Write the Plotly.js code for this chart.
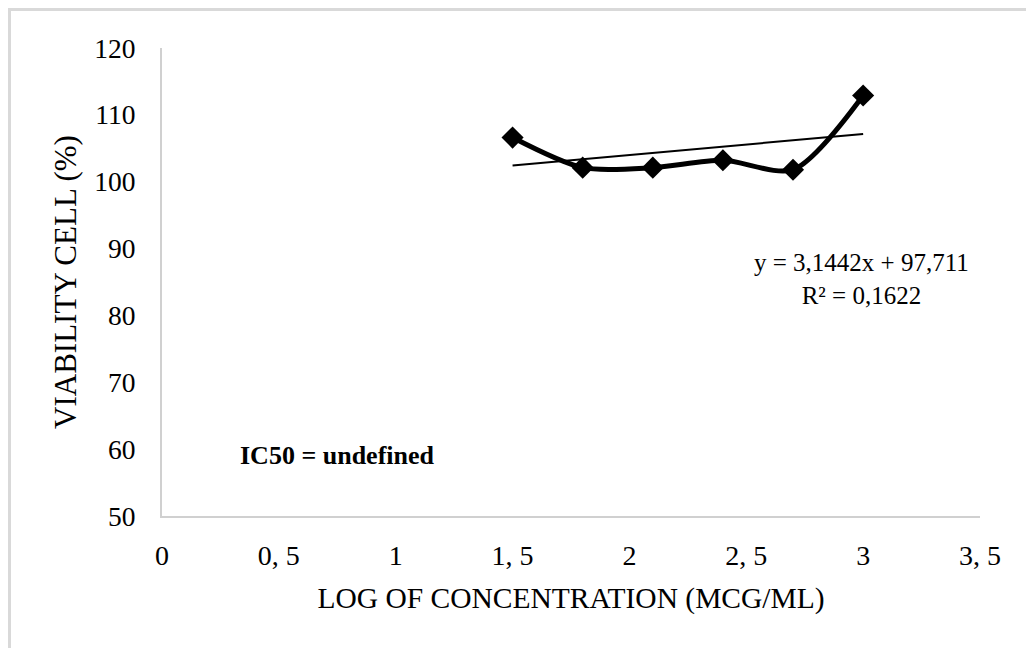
<!DOCTYPE html>
<html>
<head>
<meta charset="utf-8">
<script src="https://cdn.plot.ly/plotly-3.0.1.min.js"></script>
<style>
html,body{margin:0;padding:0;background:#fff;overflow:hidden;}
#wrap{position:relative;width:1026px;height:648px;overflow:hidden;}
#chart{position:absolute;left:0;top:0;width:1026px;height:648px;}
#frame{position:absolute;left:8px;top:8px;width:1100px;height:700px;border:3px solid #d9d9d9;box-sizing:border-box;pointer-events:none;}
</style>
</head>
<body>
<div id="wrap"><div id="chart"></div><div id="frame"></div></div>
<script>
// Data
const logConc = [1.5, 1.8, 2.1, 2.4, 2.7, 3.0];
const viability = [106.6, 102.1, 102.1, 103.2, 101.8, 112.9];
// Linear trendline endpoints (y = 3,1442x + 97,711)
const trendX = [1.5, 3.0];
const trendY = [102.43, 107.14];
const xTickVals = [0, 0.5, 1, 1.5, 2, 2.5, 3, 3.5];
const xTickText = ['0', '0, 5', '1', '1, 5', '2', '2, 5', '3', '3, 5'];
const yTickVals = [50, 60, 70, 80, 90, 100, 110, 120];

const FONT = '"Liberation Serif", "Times New Roman", serif';

const traces = [
  {
    x: logConc, y: viability, type: 'scatter', mode: 'lines+markers',
    line: {color: '#000', width: 5, shape: 'spline', smoothing: 0.8},
    marker: {symbol: 'diamond', size: 17, color: '#000'},
    showlegend: false, hoverinfo: 'skip'
  },
  {
    x: trendX, y: trendY, type: 'scatter', mode: 'lines',
    line: {color: '#000', width: 2},
    showlegend: false, hoverinfo: 'skip'
  }
];

const layout = {
  width: 1026, height: 648,
  margin: {l: 162, r: 46, t: 48, b: 132},
  paper_bgcolor: 'rgba(0,0,0,0)', plot_bgcolor: 'rgba(0,0,0,0)',
  font: {family: FONT, color: '#000', size: 22},
  showlegend: false,
  xaxis: {
    range: [0, 3.5], tickvals: xTickVals, ticktext: xTickText,
    showgrid: false, zeroline: false,
    showline: true, linecolor: '#d0d0d0', linewidth: 2,
    ticks: 'outside', ticklen: 13, tickcolor: 'rgba(0,0,0,0)',
    tickfont: {family: FONT, size: 28, color: '#000'},
    title: {text: 'LOG OF CONCENTRATION (MCG/ML)', font: {family: FONT, size: 29.5, color: '#000'}, standoff: 18}
  },
  yaxis: {
    range: [50, 120], tickvals: yTickVals,
    showgrid: false, zeroline: false,
    showline: true, linecolor: '#d0d0d0', linewidth: 2,
    ticks: 'outside', ticklen: 19, tickcolor: 'rgba(0,0,0,0)',
    tickfont: {family: FONT, size: 27.5, color: '#000'},
    title: {text: 'VIABILITY CELL (%)', font: {family: FONT, size: 31, color: '#000'}, standoff: 8}
  },
  annotations: [
    {x: 2.995, y: 85.4, xref: 'x', yref: 'y', showarrow: false,
     text: 'y = 3,1442x + 97,711<br>R² = 0,1622', align: 'center',
     font: {family: FONT, size: 25, color: '#000'}},
    {x: 0.325, y: 59.0, xref: 'x', yref: 'y', xanchor: 'left', showarrow: false,
     text: '<b>IC50 = undefined</b>',
     font: {family: FONT, size: 26, color: '#000'}}
  ]
};

Plotly.newPlot('chart', traces, layout, {displayModeBar: false, staticPlot: true});
</script>
</body>
</html>
